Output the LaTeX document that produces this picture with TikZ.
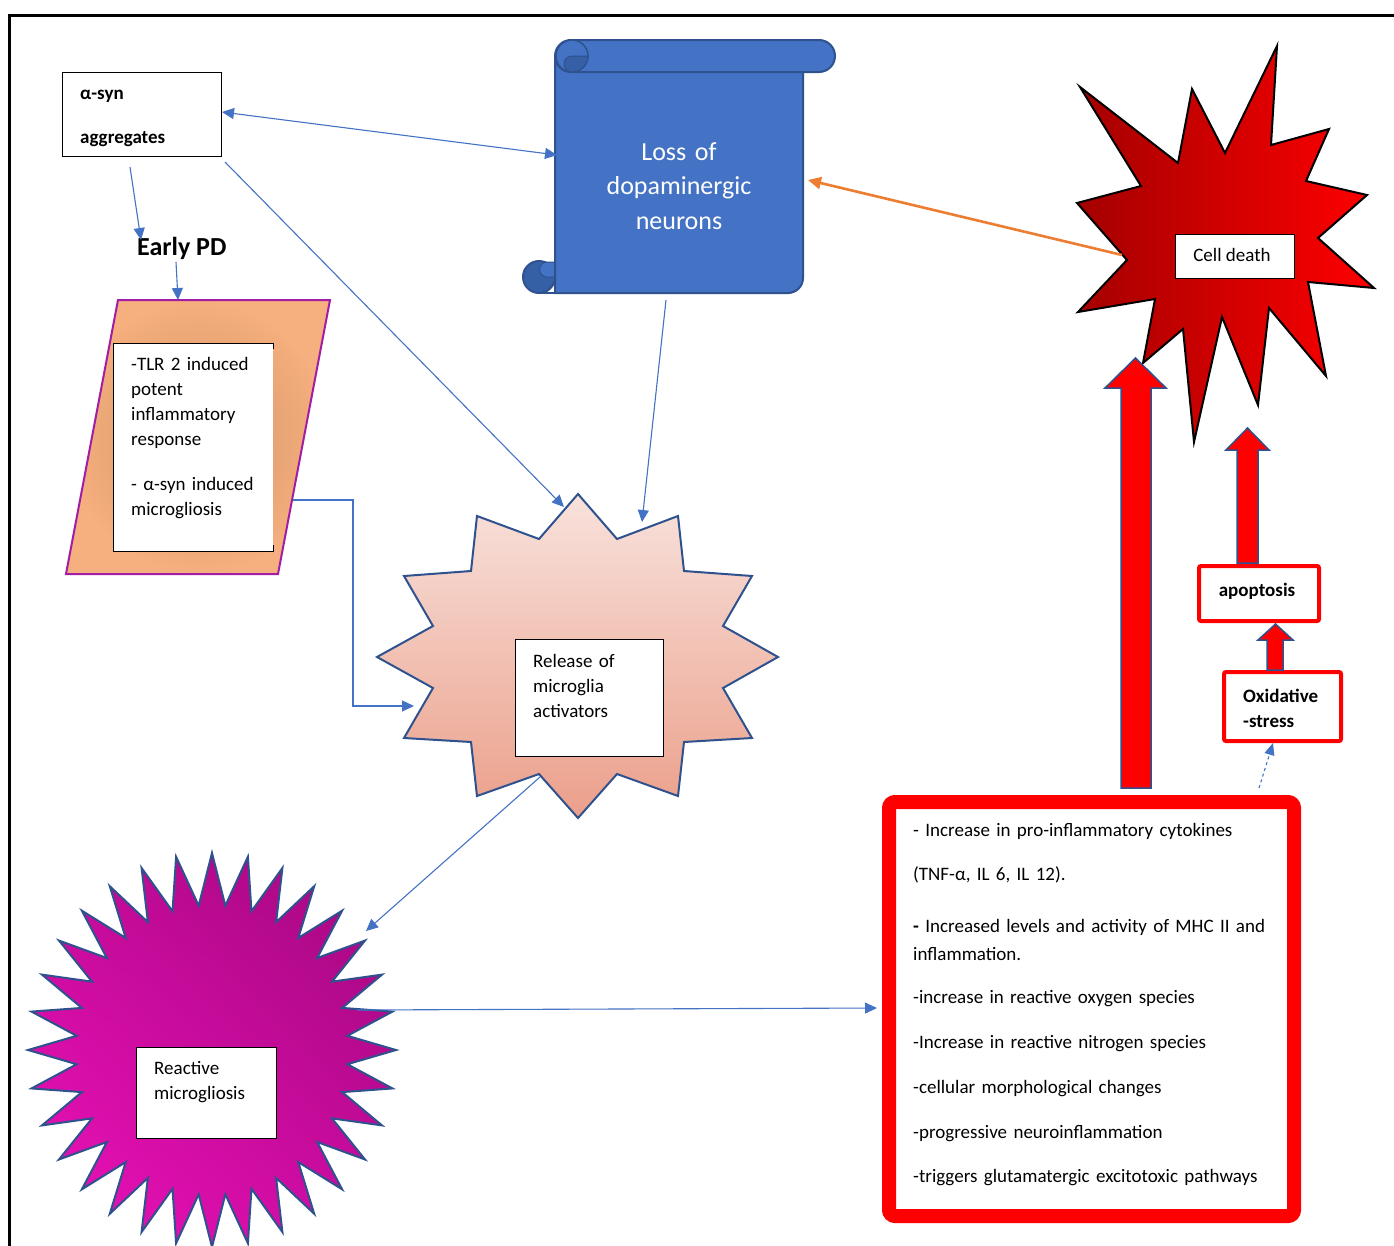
\documentclass[tikz,border=0pt]{standalone}
\usepackage{fontspec}
\setmainfont{Carlito}
\usetikzlibrary{arrows.meta,shadings}
\definecolor{linkblue}{HTML}{4472C4}
\definecolor{dkblue}{HTML}{2F528F}
\definecolor{scrollblue}{HTML}{4472C4}
\definecolor{curlblue}{HTML}{3560A6}
\definecolor{orangec}{HTML}{ED7D31}
\definecolor{purp}{HTML}{A21CA6}
\definecolor{paraIn}{HTML}{D29467}
\definecolor{paraOut}{HTML}{F6AF7E}
\definecolor{relTop}{HTML}{F8E2DC}
\definecolor{relBot}{HTML}{EB9F8A}
\definecolor{cdLeft}{HTML}{A40000}
\definecolor{cdMid}{HTML}{E00000}
\definecolor{cdRight}{HTML}{FF0000}
\definecolor{magUL}{HTML}{C70A9B}
\definecolor{magUR}{HTML}{A1087D}
\definecolor{magLL}{HTML}{EE12BA}
\definecolor{magLR}{HTML}{C90B9E}
\begin{document}
\begin{tikzpicture}[x=1pt,y=-1pt,>={Triangle[length=12pt,width=11pt]},
  link/.style={draw=linkblue, line width=1.1pt},
  whitebox/.style={draw=black, fill=white, line width=0.8pt, inner sep=0pt, anchor=north west},
  tx/.style={anchor=base west, inner sep=0pt, align=left, text width=#1, font=\fontsize{19}{25}\selectfont},
  tx/.default=300pt,
  blockarrow/.style={fill=red, draw=dkblue, line width=1.5pt, line join=miter},
  starline/.style={draw=dkblue, line width=2pt, line join=miter}
]
\fill[white] (0,0) rectangle (1394,1245);
\useasboundingbox (0,0) rectangle (1394,1245);

% outer frame
\draw[black, line width=3pt] (9,1250) -- (9,15) -- (1400,15);

% ---------- Reactive microgliosis star ----------
\shadedraw[starline, upper left=magUL, upper right=magUR, lower left=magLL, lower right=magLR]
  plot[samples at={0,...,63}, variable=\k]
  ({212+(160+24*cos(180*\k))*cos(90+\k*5.625)}, {1050-(171+26*cos(180*\k))*sin(90+\k*5.625)}) -- cycle;

% ---------- Release star ----------
\shadedraw[starline, top color=relTop, bottom color=relBot]
  (578,494) -- (617,539) -- (678,516) -- (684,571) -- (752,576) -- (723,626) -- (778,657) -- (723,688)
  -- (752,738) -- (684,742) -- (678,796) -- (617,774) -- (578,818) -- (539,774) -- (477,796) -- (471,742)
  -- (404,738) -- (433,688) -- (377,657) -- (433,626) -- (404,576) -- (471,571) -- (477,516) -- (539,539) -- cycle;

% ---------- Cell death star ----------
\shadedraw[draw=black, line width=2pt, line join=miter, left color=cdLeft, middle color=cdMid, right color=cdRight]
  (1080,87) -- (1178,163) -- (1192,89) -- (1225,153) -- (1277,46) -- (1271,145) -- (1329,129) -- (1306,181)
  -- (1367,195) -- (1318,238) -- (1374,288) -- (1308,282) -- (1326,376) -- (1269,308) -- (1258,405) -- (1222,317)
  -- (1194,442) -- (1183,329) -- (1143,363) -- (1155,299) -- (1078,312) -- (1127,260) -- (1077,203) -- (1141,186) -- cycle;

% ---------- Parallelogram ----------
\shadedraw[draw=purp, line width=2pt, inner color=paraIn, outer color=paraOut]
  (118,300) -- (330,300) -- (278,574) -- (66,574) -- cycle;
\fill[white] (113,343) rectangle (273,551);
\draw[black, line width=0.8pt] (273,349) -- (273,343) -- (113,343) -- (113,551) -- (273,551) -- (273,545);
\node[tx=150pt] (tlr) at (131,370) {-TLR 2 induced\\potent\\inflammatory\\response\\[20pt]- α-syn induced\\microgliosis};

% ---------- Scroll ----------
\filldraw[fill=scrollblue, draw=dkblue, line width=2pt]
  (555,56) -- (555,293) [rounded corners=15pt] -- (803,293) [sharp corners] -- (803,56) -- cycle;
\filldraw[fill=curlblue, draw=dkblue, line width=2pt] (539,277) circle (16);
\filldraw[fill=scrollblue, draw=dkblue, line width=1pt] (555,262) -- (547,262) arc (270:90:7.5) -- (555,277) -- cycle;
\draw[dkblue, line width=2pt] (539,293) -- (556,293);
\draw[dkblue, line width=2pt] (555,262) -- (555,293);
\filldraw[fill=scrollblue, draw=dkblue, line width=2pt, rounded corners=16pt] (555,40) rectangle (835,72);
\filldraw[fill=scrollblue, draw=dkblue, line width=1.5pt] (572,56) circle (16);
\filldraw[fill=curlblue, draw=dkblue, line width=1pt] (572,56) -- (588,56) arc (0:90:16) arc (90:270:8) -- cycle;
\node[anchor=base, align=center, inner sep=0pt, text width=220pt, text=white,
      font=\fontsize{26}{34.7}\selectfont] (loss) at (679,160) {Loss of\\dopaminergic\\neurons};

% ---------- Text boxes ----------
\node[whitebox, minimum width=159pt, minimum height=84pt] (asynbox) at (62,72) {};
\node[tx=150pt, font=\bfseries\fontsize{19}{44}\selectfont] (asyn) at (80,99) {α-syn\\aggregates};
\node[anchor=base west, inner sep=0pt, font=\bfseries\fontsize{26}{30}\selectfont] (early) at (137,255) {Early PD};

\node[whitebox, minimum width=148pt, minimum height=117pt] (relbox) at (515,639) {};
\node[tx=140pt] (rel) at (533,667) {Release of\\microglia\\activators};

\node[whitebox, minimum width=140pt, minimum height=91pt] (reabox) at (136,1047) {};
\node[tx=130pt] (rea) at (154,1074) {Reactive\\microgliosis};

\node[whitebox, minimum width=119pt, minimum height=44pt] (cdbox) at (1175,234) {};
\node[anchor=base, inner sep=0pt, font=\fontsize{19}{25}\selectfont] (cd) at (1232,261) {Cell death};

% big red box
\draw[red, line width=14pt, fill=white, rounded corners=6pt] (889,802) rectangle (1294,1216);
\coordinate (rboxW) at (877,1008);
\coordinate (rboxN) at (1259,788);
\node[tx=385pt, font=\fontsize{19}{28}\selectfont] (effects) at (913,836) {- Increase in pro-inflammatory cytokines\\[16pt](TNF-α, IL 6, IL 12).\\[24pt]\textbf{-} Increased levels and activity of MHC II and\\inflammation.\\[15pt]-increase in reactive oxygen species\\[17pt]-Increase in reactive nitrogen species\\[17pt]-cellular morphological changes\\[17pt]-progressive neuroinflammation\\[16pt]-triggers glutamatergic excitotoxic pathways};

% apoptosis and oxidative stress
\draw[red, line width=4pt, fill=white, rounded corners=2pt] (1199,566) rectangle (1319,621);
\node[anchor=base, inner sep=0pt, font=\bfseries\fontsize{19}{25}\selectfont] (apop) at (1257,596) {apoptosis};
\draw[red, line width=4pt, fill=white, rounded corners=2pt] (1224,672) rectangle (1341,741);
\node[tx=100pt, font=\bfseries\fontsize{19}{25}\selectfont] (oxid) at (1243,702) {Oxidative\\-stress};

% ---------- Block arrows ----------
\filldraw[blockarrow] (1121,788) -- (1121,388) -- (1105,388) -- (1135.5,358) -- (1166,388) -- (1151,388) -- (1151,788) -- cycle;
\filldraw[blockarrow] (1237,563) -- (1237,450) -- (1226,450) -- (1247.5,428) -- (1269,450) -- (1258,450) -- (1258,563) -- cycle;
\filldraw[blockarrow] (1267,670) -- (1267,640) -- (1258,640) -- (1275.5,624) -- (1293,640) -- (1283,640) -- (1283,670) -- cycle;

% ---------- Connector points ----------
\coordinate (asynE) at (222,112);
\coordinate (asynS) at (130,167);
\coordinate (asynSE) at (225,162);
\coordinate (lossW) at (557,155);
\coordinate (lossS) at (666,300);
\coordinate (lossE) at (808,180);
\coordinate (earlyN) at (141,240);
\coordinate (earlyS) at (176,262);
\coordinate (paraN) at (178,300);
\coordinate (paraE) at (293,500);
\coordinate (relN1) at (564,507);
\coordinate (relN2) at (642,522);
\coordinate (relW) at (414,706);
\coordinate (relSW) at (540,777);
\coordinate (reaNE) at (366,931);
\coordinate (reaE) at (357,1010);
\coordinate (cdW) at (1122,255);
\coordinate (oxidS) at (1273,743);

% ---------- Connectors ----------
\draw[link, <->] (asynE) -- (lossW);
\draw[link, ->] (asynS) -- (earlyN);
\draw[link, ->] (earlyS) -- (paraN);
\draw[link, ->] (asynSE) -- (relN1);
\draw[link, ->] (lossS) -- (relN2);
\draw[link, ->] (paraE) -- (353,500) -- (353,706) -- (relW);
\draw[link, ->] (relSW) -- (reaNE);
\draw[link, ->] (reaE) -- (rboxW);
\draw[draw=orangec, line width=2.6pt, -{Triangle[length=13pt,width=12pt]}] (cdW) -- (lossE);
\draw[link, dashed, -{Triangle[length=12pt,width=10pt]}] (rboxN) -- (oxidS);
\end{tikzpicture}
\end{document}
